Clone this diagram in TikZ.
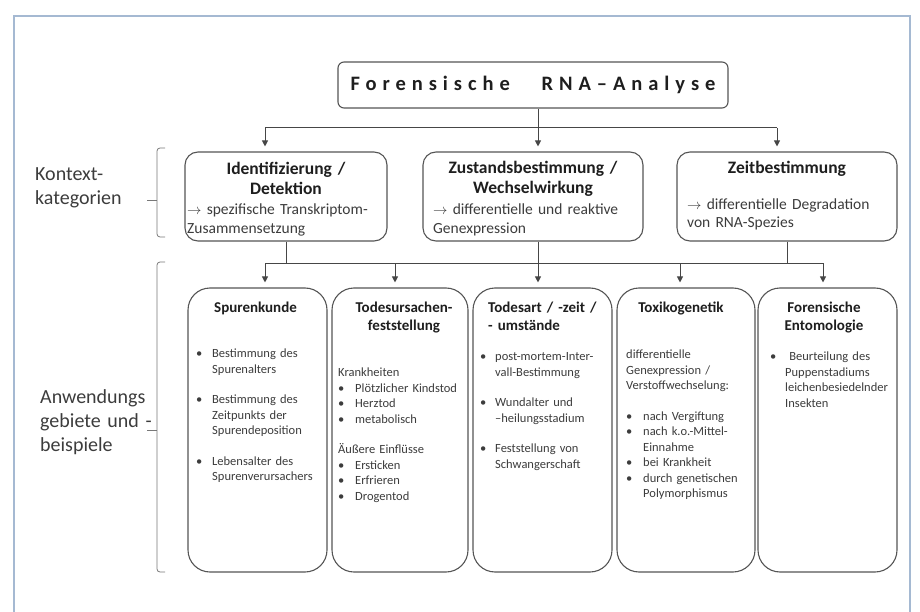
\documentclass[tikz,border=0pt]{standalone}
\usepackage{fontspec}
\setmainfont{Carlito}
\newfontfamily\spacedfont[LetterSpace=29, WordSpace=3]{Carlito}
\usepackage{tikz}
\usetikzlibrary{arrows.meta, positioning, calc}
\usepackage{xcolor}
\definecolor{frameblue}{RGB}{165,185,210}
\definecolor{linegray}{RGB}{70,70,70}
\definecolor{boxgray}{RGB}{85,85,85}
\definecolor{textdark}{RGB}{30,30,30}
\definecolor{textgray}{RGB}{60,60,60}
\definecolor{bracegray}{RGB}{120,120,120}
\newcommand{\bulitem}[1][15pt]{\makebox[#1][l]{\textbullet}}
\newcommand{\bulcont}[1][15pt]{\hspace*{#1}}

\begin{document}
\begin{tikzpicture}[x=1pt, y=-1pt,
  box/.style={draw=boxgray, line width=1.1pt, fill=white},
  titlebox/.style={box, rounded corners=6pt, minimum width=390pt, minimum height=46pt, inner sep=0pt},
  catbox/.style={box, rounded corners=13pt, minimum height=89pt},
  appbox/.style={box, rounded corners=22pt, minimum height=284pt},
  link/.style={draw=linegray, line width=1pt},
  arr/.style={link, -{Triangle[length=6pt, width=6pt]}, shorten >=5pt},
  sidebrace/.style={draw=bracegray, line width=0.8pt, rounded corners=3pt},
  sidetext/.style={font=\fontsize{20}{24}\selectfont, text=textgray, text width=130pt, align=left, anchor=base west, inner sep=0pt},
  cathead/.style={font=\bfseries\fontsize{17.5}{20}\selectfont, text=textdark, text width=210pt, align=center, anchor=base, inner sep=0pt},
  catbody/.style={font=\fontsize{15.5}{18}\selectfont, text=textgray, text width=215pt, align=left, anchor=base west, inner sep=0pt},
  apphead/.style={font=\bfseries\fontsize{15}{18}\selectfont, text=textdark, text width=135pt, align=center, anchor=base, inner sep=0pt},
  appbody/.style={font=\fontsize{12.5}{15.5}\selectfont, text=textgray, text width=135pt, align=left, anchor=base west, inner sep=0pt}]
  \useasboundingbox (0,0) rectangle (920,612);

  % frame
  \draw[frameblue, line width=1.2pt] (14,612) -- (14,16) -- (910,16) -- (910,612);

  % top level
  \node[titlebox, font=\spacedfont\bfseries\fontsize{20.5}{24}\selectfont, text=textdark] (title) at (533,85) {Forensische RNA–Analyse};

  % context categories
  \node[catbox, minimum width=202pt] (ident) at (286,196.5) {};
  \node[catbox, minimum width=220pt] (zust) at (533,196.5) {};
  \node[catbox, minimum width=220pt] (zeit) at (787,196.5) {};

  \node[cathead] (identhead) at (286,175) {Identifizierung /\\Detektion};
  \node[catbody] (identbody) at (187,215) {$\rightarrow$ spezifische Transkriptom-\\Zusammensetzung};
  \node[cathead] (zusthead) at (533,174) {Zustandsbestimmung /\\Wechselwirkung};
  \node[catbody] (zustbody) at (433,215) {$\rightarrow$ differentielle und reaktive\\Genexpression};
  \node[cathead] (zeithead) at (787,174) {Zeitbestimmung};
  \node[catbody] (zeitbody) at (687,210) {$\rightarrow$ differentielle Degradation\\von RNA-Spezies};

  % fields of application
  \foreach \n/\x/\w in {spur/257.5/139, todu/400/136, toda/542.5/139, toxi/686/138, ento/827.5/139}
    \node[appbox, minimum width=\w pt] (\n) at (\x,430) {};

  \node[apphead] (spurhead) at (255.5,312) {Spurenkunde};
  \node[appbody] (spurbody) at (196,357.5) {\bulitem[16pt]Bestimmung des\\\bulcont[16pt]Spurenalters\\[15pt]%
    \bulitem[16pt]Bestimmung des\\\bulcont[16pt]Zeitpunkts der\\\bulcont[16pt]Spurendeposition\\[15pt]%
    \bulitem[16pt]Lebensalter des\\\bulcont[16pt]Spurenverursachers};

  \node[apphead] (toduhead) at (404,312) {Todesursachen-\\feststellung};
  \node[appbody] (todubody) at (338,376.5) {Krankheiten\\\bulitem[17pt]Plötzlicher Kindstod\\\bulitem[17pt]Herztod\\\bulitem[17pt]metabolisch\\[15pt]%
    Äußere Einflüsse\\\bulitem[17pt]Ersticken\\\bulitem[17pt]Erfrieren\\\bulitem[17pt]Drogentod};

  \node[apphead, align=left, anchor=base west] (todahead) at (488,312) {Todesart / -zeit /\\- umstände};
  \node[appbody] (todabody) at (480,360.5) {\bulitem post-mortem-Inter-\\\bulcont vall-Bestimmung\\[15pt]%
    \bulitem Wundalter und\\\bulcont –heilungsstadium\\[15pt]%
    \bulitem Feststellung von\\\bulcont Schwangerschaft};

  \node[apphead] (toxihead) at (681,312) {Toxikogenetik};
  \node[appbody] (toxibody) at (626,358.5) {differentielle\\Genexpression /\\Verstoffwechselung:\\[15pt]%
    \bulitem[17pt]nach Vergiftung\\\bulitem[17pt]nach k.o.-Mittel-\\\bulcont[17pt]Einnahme\\%
    \bulitem[17pt]bei Krankheit\\\bulitem[17pt]durch genetischen\\\bulcont[17pt]Polymorphismus};

  \node[apphead] (entohead) at (824,312) {Forensische\\Entomologie};
  \node[appbody] (entobody) at (770,360.5) {\bulitem\ Beurteilung des\\\bulcont Puppenstadiums\\\bulcont leichenbesiedelnder\\\bulcont Insekten};

  % side labels with brackets
  \node[sidetext] (ctxlabel) at (35,181) {Kontext-\\kategorien};
  \node[sidetext] (applabel) at (40,403) {Anwendungs\\gebiete und -\\beispiele};
  \draw[sidebrace] (165,148) -- (157,148) -- (157,237) -- (165,237);
  \draw[sidebrace] (157,200) -- (147,200);
  \draw[sidebrace] (165,262) -- (157,262) -- (157,572) -- (165,572);
  \draw[sidebrace] (157,430) -- (147,430);

  % connectors from the top box
  \coordinate (busA) at (265,128);
  \coordinate (busB) at (777,128);
  \coordinate (busmid) at (538,128);
  \draw[link] (title.south -| busmid) -- (busmid);
  \draw[link] (busA) -- (busB);
  \draw[arr] (busA) -- (busA |- ident.north);
  \draw[arr] (busmid) -- (busmid |- zust.north);
  \draw[arr] (busB) -- (busB |- zeit.north);

  % connectors to the fields
  \coordinate (busC) at (265,263);
  \coordinate (busD) at (823,263);
  \draw[link] (busC) -- (busD);
  \draw[link] (ident.south) -- (ident.south |- busC);
  \draw[link] (zust.south -| busmid) -- (busmid |- busC);
  \draw[link] (zeit.south) -- (zeit.south |- busC);
  \foreach \n/\x in {spur/265, todu/395, toda/538, toxi/680, ento/823} {
    \coordinate (drop\n) at (\x,263);
    \draw[arr] (drop\n) -- (drop\n |- \n.north);
  }
\end{tikzpicture}
\end{document}
